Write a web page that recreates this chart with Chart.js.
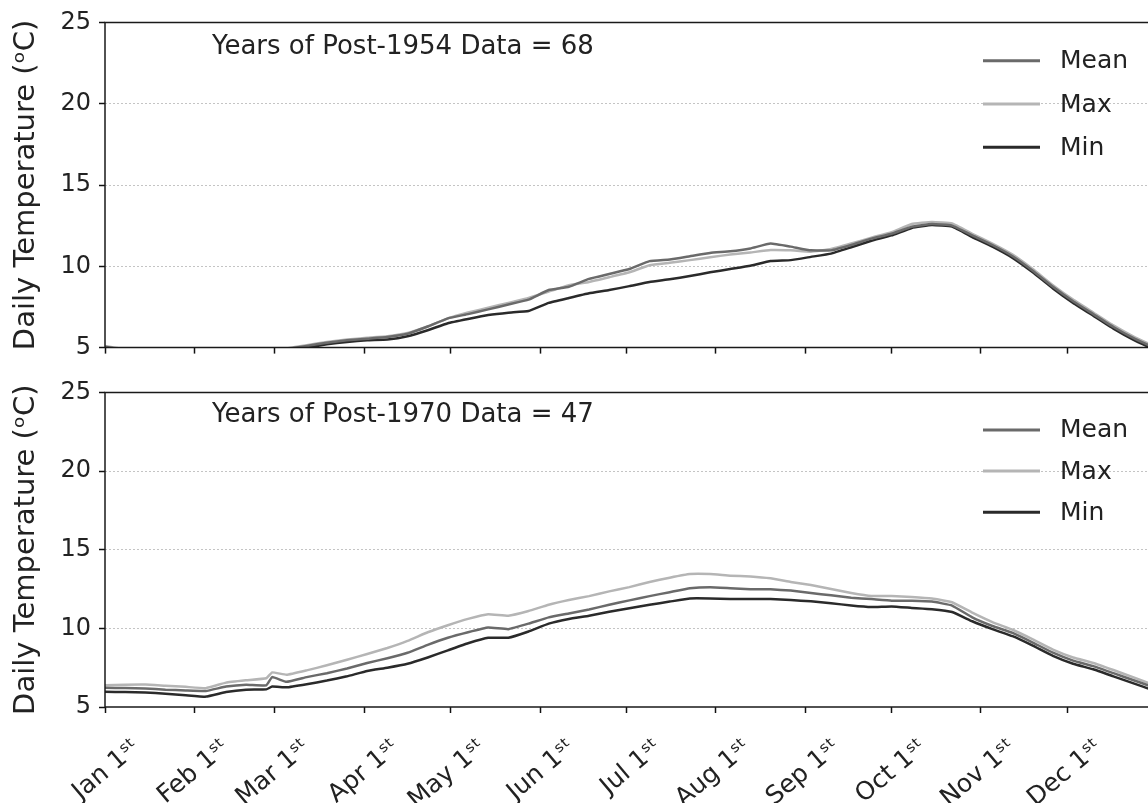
<!DOCTYPE html>
<html><head><meta charset="utf-8">
<script src="https://cdn.jsdelivr.net/npm/chart.js@4/dist/chart.umd.min.js"></script>
<style>
html,body{margin:0;padding:0;background:#fff;overflow:hidden;width:1148px;height:803px;}
canvas{position:absolute;left:0;}
#c1{top:0;}
#c2{top:370px;}
</style></head><body>
<canvas id="c1" width="1148" height="370"></canvas>
<canvas id="c2" width="1148" height="433"></canvas>
<script>
// ---- tick labels / categories ----
const monthStarts = [0,31,59,90,120,151,181,212,243,273,304,334];
const monthLabels = ['Jan 1ˢᵗ','Feb 1ˢᵗ','Mar 1ˢᵗ','Apr 1ˢᵗ','May 1ˢᵗ','Jun 1ˢᵗ','Jul 1ˢᵗ','Aug 1ˢᵗ','Sep 1ˢᵗ','Oct 1ˢᵗ','Nov 1ˢᵗ','Dec 1ˢᵗ'];
const yTicks = [5,10,15,20,25];
const seriesNames = ['Mean','Max','Min'];
const panelNotes = ['Years of Post-1954 Data = 68','Years of Post-1970 Data = 47'];

// ---- top panel (post-1954), day of year ----
const daysTop = [0,7,14,21,28,35,42,49,56,63,70,77,84,91,98,105,112,119,126,133,140,147,154,161,168,175,182,189,196,203,210,217,224,231,238,245,252,259,266,273,280,287,294,301,308,315,322,329,336,343,350,357,364];
const meanTop = [5.05,4.85,4.7,4.6,4.5,4.45,4.5,4.6,4.7,4.9,5.1,5.3,5.45,5.55,5.65,5.85,6.3,6.8,7.06,7.35,7.65,7.95,8.54,8.74,9.23,9.53,9.83,10.32,10.42,10.62,10.82,10.92,11.1,11.4,11.21,10.98,10.98,11.31,11.7,12.0,12.43,12.6,12.5,11.9,11.31,10.62,9.73,8.74,7.85,7.06,6.27,5.58,5.0];
const maxTop  = [5.1,4.9,4.75,4.65,4.55,4.5,4.55,4.65,4.75,4.95,5.15,5.35,5.5,5.6,5.7,5.9,6.3,6.8,7.16,7.45,7.75,8.05,8.45,8.84,9.04,9.33,9.63,10.07,10.22,10.38,10.56,10.72,10.85,11.0,10.98,10.9,11.06,11.4,11.76,12.1,12.6,12.73,12.63,12.0,11.4,10.72,9.83,8.84,7.95,7.16,6.37,5.68,5.1];
const minTop  = [5.0,4.75,4.6,4.5,4.4,4.35,4.4,4.5,4.6,4.8,5.0,5.2,5.35,5.45,5.5,5.7,6.07,6.5,6.76,7.0,7.15,7.25,7.75,8.05,8.34,8.54,8.78,9.04,9.2,9.4,9.63,9.83,10.03,10.32,10.38,10.58,10.78,11.17,11.57,11.9,12.36,12.54,12.44,11.8,11.21,10.52,9.63,8.64,7.75,6.96,6.17,5.48,4.9];

// ---- bottom panel (post-1970), day of year ----
const daysBot = [0,7,14,21,28,35,42,49,56,58,63,70,77,84,91,98,105,112,119,126,133,140,147,154,161,168,175,182,189,196,203,210,217,224,231,238,245,252,259,266,273,280,287,294,301,308,315,322,329,336,343,350,357,364];
const meanBot = [6.22,6.2,6.18,6.1,6.05,6.02,6.3,6.42,6.38,6.9,6.6,6.9,7.15,7.45,7.8,8.1,8.45,8.95,9.4,9.75,10.05,9.95,10.3,10.7,10.95,11.2,11.5,11.78,12.05,12.3,12.55,12.62,12.55,12.48,12.48,12.4,12.25,12.1,11.95,11.86,11.76,11.75,11.7,11.45,10.7,10.15,9.71,9.1,8.45,7.95,7.6,7.15,6.7,6.25];
const maxBot  = [6.38,6.42,6.43,6.35,6.28,6.2,6.55,6.7,6.83,7.2,7.05,7.33,7.65,8.0,8.37,8.75,9.2,9.75,10.2,10.6,10.9,10.8,11.1,11.5,11.8,12.05,12.35,12.62,12.95,13.22,13.45,13.45,13.35,13.3,13.18,12.95,12.75,12.5,12.25,12.06,12.06,12.0,11.9,11.66,11.0,10.4,9.91,9.3,8.65,8.15,7.8,7.35,6.88,6.4];
const minBot  = [5.97,5.95,5.92,5.85,5.75,5.66,5.95,6.1,6.12,6.3,6.25,6.45,6.68,6.95,7.29,7.5,7.75,8.15,8.6,9.05,9.4,9.4,9.8,10.3,10.6,10.8,11.05,11.28,11.5,11.7,11.9,11.9,11.86,11.86,11.86,11.8,11.72,11.6,11.45,11.35,11.39,11.3,11.22,11.04,10.45,9.95,9.5,8.9,8.25,7.75,7.4,6.95,6.5,6.05];

const colors = ['#6a6a6a','#b5b5b5','#2a2a2a'];
const FONT = '"DejaVu Sans", "Liberation Sans", sans-serif';

function pts(days, vals){ return days.map((d,i)=>({x:d, y:vals[i]})); }

const decor = {
  id:'decor',
  afterDraw(chart, args, o){
    const {ctx, chartArea:a} = chart;
    ctx.save();
    ctx.strokeStyle='#1a1a1a'; ctx.lineWidth=1.5;
    ctx.beginPath();
    ctx.moveTo(a.left, a.bottom); ctx.lineTo(a.left, a.top); ctx.lineTo(a.right+5, a.top);
    ctx.moveTo(a.left, a.bottom); ctx.lineTo(a.right+5, a.bottom);
    ctx.stroke();
    ctx.fillStyle='#222';
    ctx.font='26px '+FONT;
    ctx.textBaseline='middle';
    ctx.textAlign='left';
    ctx.fillText(o.note, 212, a.top + o.noteDy);
    chart.data.datasets.forEach((ds,i)=>{
      const y = a.top + o.legY0 + i*o.legDy;
      ctx.strokeStyle = ds.borderColor; ctx.lineWidth = 3;
      ctx.beginPath(); ctx.moveTo(983, y); ctx.lineTo(1040, y); ctx.stroke();
      ctx.fillStyle='#222';
      ctx.font='25px '+FONT;
      ctx.fillText(ds.label, 1060, y+1);
    });
    ctx.restore();
  }
};

function makeChart(id, days, series, note, isBottom){
  const datasets = series.map((vals,i)=>({
    label: seriesNames[i], data: pts(days, vals),
    borderColor: colors[i], borderWidth: 2.5, pointRadius: 0, tension: 0.1, fill:false
  }));
  return new Chart(document.getElementById(id), {
    type:'line',
    data:{datasets},
    plugins:[decor],
    options:{
      responsive:false, animation:false, devicePixelRatio:1,
      layout:{padding:{top: isBottom ? 12 : 21, left:0, right:0, bottom:0}},
      plugins:{
        legend:{display:false}, tooltip:{enabled:false},
        decor:{note, noteDy: isBottom ? 23 : 24.5, legY0: isBottom ? 37.5 : 38.3, legDy: isBottom ? 41.2 : 43.3}
      },
      scales:{
        x:{
          type:'linear', min:0, max:362,
          afterBuildTicks(s){ s.ticks = monthStarts.map(v=>({value:v})); },
          afterFit(s){ s.height = isBottom ? 96 : 12; },
          border:{display:false},
          grid:{drawOnChartArea:false, drawTicks:true, tickLength:6, tickColor:'#111', tickWidth:1.5, tickBorderDash:[]},
          ticks:{
            display: isBottom, minRotation:40, maxRotation:40, autoSkip:false,
            labelOffset: 32, padding: 20,
            color:'#222', font:{family:FONT, size:25},
            callback(v){ const k = monthStarts.indexOf(v); return k>=0 ? monthLabels[k] : ''; }
          }
        },
        y:{
          min:5, max:25,
          afterBuildTicks(s){ s.ticks = yTicks.map(v=>({value:v})); },
          afterFit(s){ s.width = 105; },
          border:{display:false, dash:[2,2]},
          grid:{
            color:(c)=> (c.tick && (c.tick.value===5 || c.tick.value===25)) ? 'rgba(0,0,0,0)' : '#c4c4c4',
            lineWidth:1, drawTicks:true, tickLength:6, tickColor:'#111', tickWidth:1.5, tickBorderDash:[]
          },
          ticks:{color:'#222', padding:8, font:{family:FONT, size:24}},
          title:{display:true, text:'Daily Temperature (ᵒC)', color:'#222', font:{family:FONT, size:29}, padding:{top:9, bottom:0}}
        }
      }
    }
  });
}

makeChart('c1', daysTop, [meanTop, maxTop, minTop], panelNotes[0], false);
makeChart('c2', daysBot, [meanBot, maxBot, minBot], panelNotes[1], true);
</script>
</body></html>
